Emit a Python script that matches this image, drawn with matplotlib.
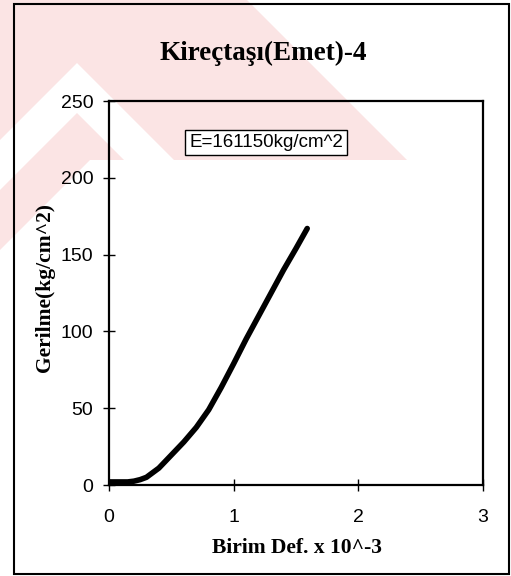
import matplotlib
matplotlib.use('Agg')
import matplotlib.pyplot as plt
from matplotlib.patches import Polygon, Rectangle

# veri
strain = [0, 0.05, 0.1, 0.15, 0.2, 0.25, 0.3, 0.4, 0.5, 0.6, 0.7, 0.8,
          0.9, 1.0, 1.1, 1.2, 1.3, 1.4, 1.5, 1.59]
stress = [2, 2, 2, 2, 2.5, 3.5, 5, 11, 19.5, 28, 37.5, 49,
          63.5, 79, 95, 110, 125, 140, 154, 167]
x_ticks = [0, 1, 2, 3]
y_ticks = [0, 50, 100, 150, 200, 250]

title = 'Kireçtaşı(Emet)-4'
xlabel = 'Birim Def. x 10^-3'
ylabel = 'Gerilme(kg/cm^2)'
note = 'E=161150kg/cm^2'

W, H = 511, 576
fig = plt.figure(figsize=(W / 100, H / 100), dpi=100)
fig.patch.set_facecolor('white')

def px(pts):
    # piksel koordinatlarini figur oranina cevir
    return [(x / W, 1 - y / H) for x, y in pts]

# soluk kirmizi filigran
wm = '#fbe4e4'
fig.patches.append(Polygon(px([(0, 0), (247, 0), (407, 160), (174, 160), (77, 63), (0, 140)]),
                           closed=True, transform=fig.transFigure, facecolor=wm,
                           edgecolor='none', zorder=-5))
fig.patches.append(Polygon(px([(0, 190), (77, 113), (124, 160), (90, 160), (0, 250)]),
                           closed=True, transform=fig.transFigure, facecolor=wm,
                           edgecolor='none', zorder=-5))

# dis cerceve
fig.patches.append(Rectangle((14 / W, 1 - 574 / H), (509 - 14) / W, (574 - 4) / H,
                             transform=fig.transFigure, fill=False,
                             edgecolor='black', linewidth=1.5, zorder=5))

ax = fig.add_axes([109 / W, 1 - 485 / H, (483 - 109) / W, (485 - 101) / H])
ax.set_facecolor('none')
ax.plot(strain, stress, color='black', linewidth=4, solid_capstyle='round',
        solid_joinstyle='round')

ax.set_xlim(0, 3)
ax.set_ylim(0, 250)
ax.set_xticks(x_ticks)
ax.set_yticks(y_ticks)
for s in ax.spines.values():
    s.set_linewidth(1.6)
ax.tick_params(axis='both', direction='inout', length=8.5, width=1,
               labelsize=14, labelfontfamily='Liberation Sans')
ax.tick_params(axis='x', pad=13)
ax.tick_params(axis='y', pad=7)

ax.text(1.26, 223, note, fontsize=13.5, family='Liberation Sans',
        ha='center', va='center',
        bbox=dict(boxstyle='square,pad=0.2', facecolor='white',
                  edgecolor='black', linewidth=1))

fig.text(263 / W, 1 - 53 / H, title, fontsize=19.5, fontweight='bold',
         family='Liberation Serif', ha='center', va='center')
fig.text(297 / W, 1 - 548 / H, xlabel, fontsize=15.5, fontweight='bold',
         family='Liberation Serif', ha='center', va='center')
fig.text(45 / W, 1 - 288 / H, ylabel, fontsize=15.5, fontweight='bold',
         family='Liberation Serif', ha='center', va='center', rotation=90)

plt.savefig('out.png', dpi=100)
